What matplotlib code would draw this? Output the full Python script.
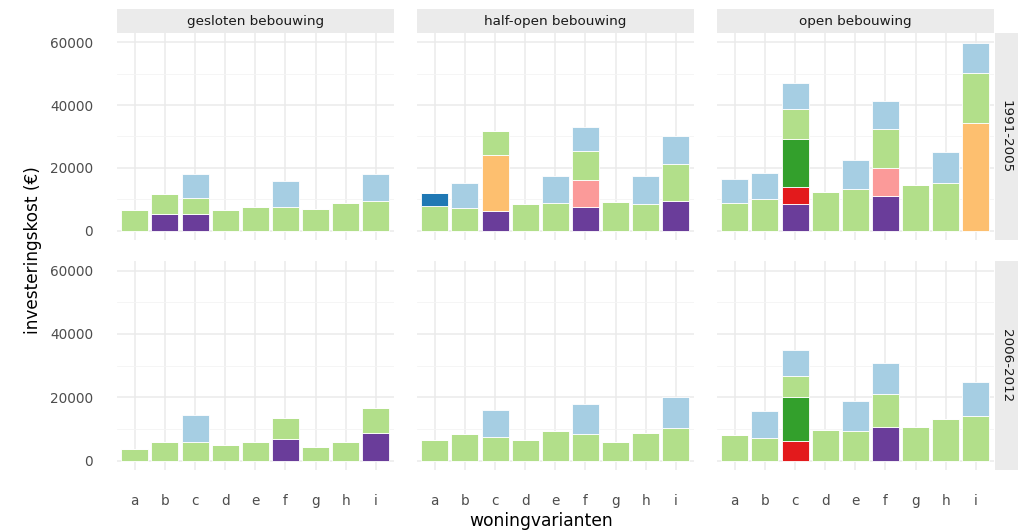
import numpy as np
import matplotlib
matplotlib.use("Agg")
import matplotlib.pyplot as plt

varianten = ["a", "b", "c", "d", "e", "f", "g", "h", "i"]
typologie = ["gesloten bebouwing", "half-open bebouwing", "open bebouwing"]
perioden = ["1991-2005", "2006-2012"]

# per period: [gesloten, half-open, open], 9 varianten each
paars_9105 = [[0, 5200, 5200, 0, 0, 0, 0, 0, 0],
              [0, 0, 6200, 0, 0, 7600, 0, 0, 9400],
              [0, 0, 8400, 0, 0, 10900, 0, 0, 0]]
lichtoranje_9105 = [[0] * 9,
                    [0, 0, 18000, 0, 0, 0, 0, 0, 0],
                    [0, 0, 0, 0, 0, 0, 0, 0, 34300]]
rood_9105 = [[0] * 9,
             [0] * 9,
             [0, 0, 5400, 0, 0, 0, 0, 0, 0]]
roze_9105 = [[0] * 9,
             [0, 0, 0, 0, 0, 8600, 0, 0, 0],
             [0, 0, 0, 0, 0, 9000, 0, 0, 0]]
donkergroen_9105 = [[0] * 9,
                    [0] * 9,
                    [0, 0, 15400, 0, 0, 0, 0, 0, 0]]
lichtgroen_9105 = [[6500, 6400, 5300, 6500, 7600, 7600, 6900, 8700, 9400],
                   [7900, 7200, 7500, 8400, 8700, 9100, 9000, 8400, 11900],
                   [8700, 10200, 9700, 12300, 13400, 12600, 14500, 15200, 15800]]
donkerblauw_9105 = [[0] * 9,
                    [4100, 0, 0, 0, 0, 0, 0, 0, 0],
                    [0] * 9]
lichtblauw_9105 = [[0, 0, 7500, 0, 0, 8300, 0, 0, 8600],
                   [0, 7900, 0, 0, 8700, 7800, 0, 9000, 9000],
                   [7900, 8200, 8000, 0, 9000, 8900, 0, 9700, 9700]]

paars_0612 = [[0, 0, 0, 0, 0, 6900, 0, 0, 8700],
              [0] * 9,
              [0, 0, 0, 0, 0, 10500, 0, 0, 0]]
lichtoranje_0612 = [[0] * 9, [0] * 9, [0] * 9]
rood_0612 = [[0] * 9,
             [0] * 9,
             [0, 0, 6300, 0, 0, 0, 0, 0, 0]]
roze_0612 = [[0] * 9, [0] * 9, [0] * 9]
donkergroen_0612 = [[0] * 9,
                    [0] * 9,
                    [0, 0, 13600, 0, 0, 0, 0, 0, 0]]
lichtgroen_0612 = [[3700, 5900, 5900, 4800, 5900, 6600, 4400, 5900, 7900],
                   [6600, 8400, 7300, 6600, 9200, 8400, 5900, 8700, 10200],
                   [8100, 7100, 6700, 9500, 9200, 10400, 10500, 13100, 14200]]
donkerblauw_0612 = [[0] * 9, [0] * 9, [0] * 9]
lichtblauw_0612 = [[0, 0, 8600, 0, 0, 0, 0, 0, 0],
                   [0, 0, 8600, 0, 0, 9300, 0, 0, 10000],
                   [0, 8500, 8300, 0, 9500, 10000, 0, 0, 10600]]

# bottom to top
lagen = [
    (paars_9105, paars_0612, "#6a3d9a"),
    (lichtoranje_9105, lichtoranje_0612, "#fdbf6f"),
    (rood_9105, rood_0612, "#e31a1c"),
    (roze_9105, roze_0612, "#fb9a99"),
    (donkergroen_9105, donkergroen_0612, "#33a02c"),
    (lichtgroen_9105, lichtgroen_0612, "#b2df8a"),
    (donkerblauw_9105, donkerblauw_0612, "#1f78b4"),
    (lichtblauw_9105, lichtblauw_0612, "#a6cee3"),
]

W, H = 1028, 530
fig = plt.figure(figsize=(W / 100, H / 100), dpi=100)
fig.patch.set_facecolor("white")

def box(x0, y0, x1, y1):
    # pixel box (top-left origin) -> figure fraction
    return [x0 / W, 1 - y1 / H, (x1 - x0) / W, (y1 - y0) / H]

panel_x = [(116.7, 394), (416.7, 694), (716.7, 994)]
panel_y = [(33, 240), (261, 470)]

x = np.arange(len(varianten))
for r, periode in enumerate(perioden):
    for c, typ in enumerate(typologie):
        ax = fig.add_axes(box(panel_x[c][0], panel_y[r][0], panel_x[c][1], panel_y[r][1]))
        ax.set_facecolor("white")
        bottom = np.zeros(len(varianten))
        for l9105, l0612, kleur in lagen:
            vals = np.array((l9105 if r == 0 else l0612)[c], dtype=float)
            ax.bar(x, vals, width=0.9, bottom=bottom, color=kleur,
                   edgecolor="white", linewidth=0.6, zorder=3)
            bottom += vals
        ax.set_xlim(-0.6, 8.6)
        ax.set_ylim(-3000, 63000)
        ax.set_yticks([0, 20000, 40000, 60000])
        ax.set_yticks([10000, 30000, 50000], minor=True)
        ax.set_xticks(x)
        ax.grid(True, which="major", color="#ebebeb", linewidth=1.1, zorder=0)
        ax.grid(True, which="minor", axis="y", color="#f4f4f4", linewidth=0.6, zorder=0)
        for s in ax.spines.values():
            s.set_visible(False)
        ax.tick_params(length=0, which="both", colors="#4d4d4d", labelsize=9.8)
        if c == 0:
            ax.set_yticklabels(["0", "20000", "40000", "60000"])
            ax.tick_params(axis="y", pad=17)
        else:
            ax.set_yticklabels([])
        if r == 1:
            ax.set_xticklabels(varianten)
            ax.tick_params(axis="x", pad=17)
        else:
            ax.set_xticklabels([])

        if r == 0:
            sx = fig.add_axes(box(panel_x[c][0], 9, panel_x[c][1], 33))
            sx.set_facecolor("#ebebeb")
            sx.set_xticks([]); sx.set_yticks([])
            for s in sx.spines.values():
                s.set_visible(False)
            sx.text(0.5, 0.5, typ, ha="center", va="center", fontsize=9.7,
                    color="#1a1a1a", transform=sx.transAxes)
        if c == 2:
            sy = fig.add_axes(box(994.5, panel_y[r][0], 1018, panel_y[r][1]))
            sy.set_facecolor("#ebebeb")
            sy.set_xticks([]); sy.set_yticks([])
            for s in sy.spines.values():
                s.set_visible(False)
            sy.text(0.5, 0.5, periode, ha="center", va="center", fontsize=9.7,
                    color="#1a1a1a", rotation=-90, transform=sy.transAxes)

fig.text(33 / W, 1 - 250 / H, "investeringskost (€)", rotation=90,
         ha="center", va="center", fontsize=12.2, color="black")
fig.text(541 / W, 1 - 521 / H, "woningvarianten", ha="center", va="center",
         fontsize=12.3, color="black")

fig.savefig("out.png", dpi=100, facecolor="white")
